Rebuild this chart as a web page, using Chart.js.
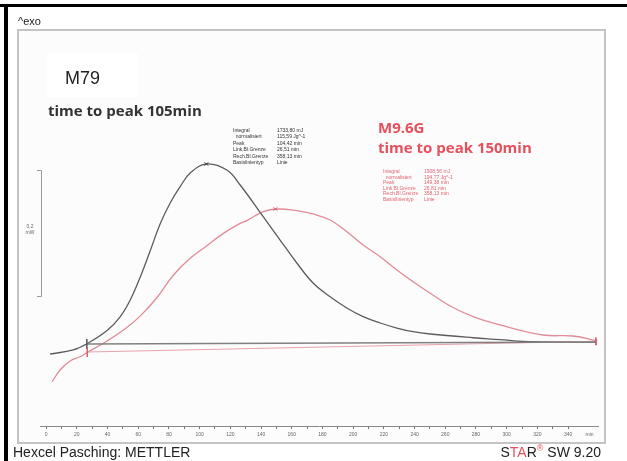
<!DOCTYPE html>
<html><head><meta charset="utf-8">
<script src="https://cdn.jsdelivr.net/npm/chart.js@4/dist/chart.umd.min.js"></script>
<style>html,body{margin:0;padding:0;background:#fff;}#c{position:absolute;left:0;top:0;}</style>
</head><body>
<canvas id="c" width="627" height="461"></canvas>
<script>
// time axis (min)
const tickValues = [0,10,20,30,40,50,60,70,80,90,100,110,120,130,140,150,160,170,180,190,200,210,220,230,240,250,260,270,280,290,300,310,320,330,340];
// M79 heat flow (mW, arbitrary zero)
const m79Time = [2.6,17.6,26.5,39.5,48.2,54.7,61.2,67.8,74.3,80.8,87.3,93.8,104.4,117.7,126.4,141.4,152.4,163.3,173.9,185.0,195.9,206.5,217.6,228.5,239.1,250.2,278.2,295.8,310.7,334.9,358.3];
const m79Flow = [-0.0066,-0.0003,0.0095,0.0300,0.0520,0.0780,0.1140,0.1560,0.1985,0.2312,0.2569,0.2784,0.2926,0.2831,0.2595,0.2096,0.1729,0.1367,0.1052,0.0836,0.0658,0.0521,0.0422,0.0343,0.0285,0.0249,0.0190,0.0160,0.0131,0.0123,0.0120];
const m79BaseTime = [26.51,358.13];
const m79BaseFlow = [0.0091,0.0123];
const m79Peak = [104.42,0.2926];
// M9.6G heat flow
const m96Time = [3.9,9.1,15.6,22.1,26.7,39.5,51.5,61.2,72.1,82.7,93.8,104.7,115.3,126.4,130.7,141.4,150.3,163.3,173.9,185.0,195.9,206.5,217.6,228.5,239.1,250.2,263.2,278.2,295.8,323.8,343.3,359.0];
const m96Flow = [-0.0502,-0.0318,-0.0176,-0.0109,-0.0043,0.0135,0.0330,0.0530,0.0820,0.1170,0.1440,0.1640,0.1830,0.1990,0.2035,0.2175,0.2217,0.2191,0.2139,0.2044,0.1860,0.1650,0.1466,0.1257,0.1072,0.0890,0.0690,0.0521,0.0391,0.0233,0.0217,0.0139];
const m96BaseTime = [26.81,358.13];
const m96BaseFlow = [-0.0035,0.0135];
const m96Peak = [149.38,0.2217];

const info79 = [["Integral","1733,80 mJ"],["  normalisiert","115,59 Jg^-1"],["Peak","104,42 min"],["Link.Bl.Grenze","26,51 min"],["Rech.Bl.Grenze","358,13 min"],["Basislinientyp","Linie"]];
const info96 = [["Integral","1908,56 mJ"],["  normalisiert","194,77 Jg^-1"],["Peak","149,38 min"],["Link.Bl.Grenze","26,81 min"],["Rech.Bl.Grenze","358,13 min"],["Basislinientyp","Linie"]];

const BLACK = '#5c5c5c', PINK = '#e08c98', RED = '#e5505c';
const pts = (t, v) => t.map((x, i) => ({x, y: v[i]}));

const deco = {
  id: 'deco',
  beforeDraw(chart) {
    const c = chart.ctx;
    c.save();
    c.fillStyle = '#fff'; c.fillRect(0, 0, 627, 461);
    c.fillStyle = '#fcfcfc'; c.fillRect(18, 30, 587, 413);
    // black frame (top & left)
    c.fillStyle = '#000';
    c.fillRect(0, 4, 627, 3);
    c.fillRect(4, 4, 4, 457);
    // panel
    c.strokeStyle = '#c4c4c4'; c.lineWidth = 2;
    c.strokeRect(18, 30, 587, 413);
    c.fillStyle = '#fff'; c.fillRect(47, 53, 91, 44);
    c.restore();
  },
  afterDraw(chart) {
    const c = chart.ctx, xs = chart.scales.x, ys = chart.scales.y;
    c.save();
    // scale bar
    c.strokeStyle = '#9a9a9a'; c.lineWidth = 1;
    c.beginPath();
    c.moveTo(37, 170.5); c.lineTo(41.5, 170.5); c.lineTo(41.5, 296.5); c.lineTo(37, 296.5);
    c.stroke();
    c.fillStyle = '#666'; c.font = '5px "Liberation Sans"'; c.textAlign = 'center';
    c.fillText('0,2', 30, 228); c.fillText('mW', 30, 234);
    // markers
    const mark = (t, v, col, h) => {
      const x = xs.getPixelForValue(t), y = ys.getPixelForValue(v);
      c.strokeStyle = col; c.lineWidth = 1.5;
      c.beginPath(); c.moveTo(x, y - h); c.lineTo(x, y + h); c.stroke();
    };
    mark(m79BaseTime[0], m79BaseFlow[0], '#555', 5);
    mark(m96BaseTime[0], m96BaseFlow[0], '#d8606e', 5);
    mark(m79BaseTime[1], m79BaseFlow[1], '#777', 3);
    mark(m96BaseTime[1], m96BaseFlow[1], '#d8606e', 4);
    const peak = (p, col) => {
      const x = xs.getPixelForValue(p[0]), y = ys.getPixelForValue(p[1]);
      c.strokeStyle = col; c.lineWidth = 1;
      c.beginPath(); c.moveTo(x - 2, y - 1.5); c.lineTo(x + 2, y + 1.5); c.moveTo(x - 2, y + 1.5); c.lineTo(x + 2, y - 1.5); c.stroke();
    };
    peak(m79Peak, '#444'); peak(m96Peak, '#d8606e');
    // texts
    c.textAlign = 'left'; c.textBaseline = 'alphabetic';
    c.fillStyle = '#222'; c.font = '11px "Liberation Sans"';
    c.fillText('^exo', 18, 25);
    c.fillStyle = '#222'; c.font = '18px "Liberation Sans"';
    c.fillText('M79', 65, 84);
    c.fillStyle = '#333'; c.font = 'bold 15px "Open Sans"';
    c.fillText('time to peak 105min', 48, 116);
    c.fillStyle = RED;
    c.fillText('M9.6G', 378, 133);
    c.fillText('time to peak 150min', 378, 153);
    c.font = '5px "Liberation Sans"';
    c.fillStyle = '#333';
    info79.forEach((r, i) => { c.fillText(r[0], 233, 132 + i * 6.4); c.fillText(r[1], 277, 132 + i * 6.4); });
    c.fillStyle = '#e06572';
    info96.forEach((r, i) => { c.fillText(r[0], 383, 173 + i * 5.6); c.fillText(r[1], 424, 173 + i * 5.6); });
    // footer
    c.fillStyle = '#222'; c.font = '14px "Liberation Sans"';
    c.fillText('Hexcel Pasching: METTLER', 13, 457);
    const parts = [['S', '#222'], ['TA', RED], ['R', '#222'], ['®', RED], [' SW 9.20', '#222']];
    let total = 0;
    parts.forEach(p => { c.font = (p[0] === '®' ? '9px' : '14px') + ' "Liberation Sans"'; total += c.measureText(p[0]).width; });
    let x = 601 - total;
    parts.forEach(p => {
      c.font = (p[0] === '®' ? '9px' : '14px') + ' "Liberation Sans"';
      c.fillStyle = p[1];
      c.fillText(p[0], x, p[0] === '®' ? 451 : 457);
      x += c.measureText(p[0]).width;
    });
    c.restore();
  }
};

new Chart(document.getElementById('c'), {
  type: 'line',
  data: {
    datasets: [
      {data: pts(m79BaseTime, m79BaseFlow), borderColor: '#808080', borderWidth: 1.5, pointRadius: 0, tension: 0},
      {data: pts(m96BaseTime, m96BaseFlow), borderColor: '#e6a3ad', borderWidth: 1.2, pointRadius: 0, tension: 0},
      {data: pts(m79Time, m79Flow), borderColor: BLACK, borderWidth: 1.3, pointRadius: 0, tension: 0.4},
      {data: pts(m96Time, m96Flow), borderColor: PINK, borderWidth: 1.3, pointRadius: 0, tension: 0.4}
    ]
  },
  options: {
    responsive: false, animation: false, devicePixelRatio: 1,
    layout: {padding: {left: 40, right: 29, top: 38.65, bottom: 21}},
    plugins: {legend: {display: false}, tooltip: {enabled: false}},
    scales: {
      x: {
        type: 'linear', min: -4, max: 359.5,
        afterBuildTicks: s => { s.ticks = tickValues.map(v => ({value: v})).concat([{value: 354}]); },
        afterFit: s => { s.height = 14; },
        grid: {drawOnChartArea: false, tickLength: 3, tickColor: ctx => (ctx.tick && ctx.tick.value === 354) ? 'rgba(0,0,0,0)' : '#777', lineWidth: 1},
        border: {color: '#888', width: 1},
        ticks: {
          autoSkip: false, maxRotation: 0, padding: 3, color: '#666',
          font: {size: 5, family: 'Liberation Sans'},
          callback: v => v === 354 ? 'min' : (v % 20 === 0 ? String(v) : '')
        }
      },
      y: {display: false, min: -0.12, max: 0.49}
    }
  },
  plugins: [deco]
});
</script>
</body></html>
